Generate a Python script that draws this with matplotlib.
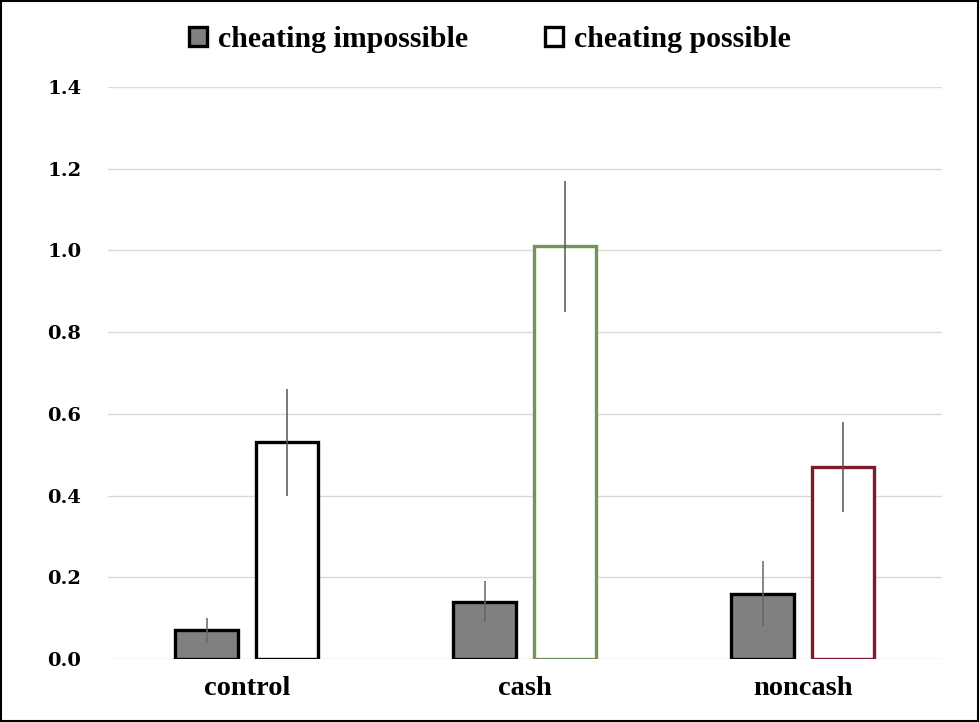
import numpy as np
import matplotlib.pyplot as plt
from matplotlib.patches import Rectangle

# Datos
condiciones = ['control', 'cash', 'noncash']
imposible = [0.07, 0.14, 0.16]
imposible_err = [0.03, 0.05, 0.08]
posible = [0.53, 1.01, 0.47]
posible_err = [0.13, 0.16, 0.11]
y_ticks = [0.0, 0.2, 0.4, 0.6, 0.8, 1.0, 1.2, 1.4]

borde_posible = ['black', '#76925a', '#7f1a2c']

plt.rcParams['font.family'] = ['Liberation Serif', 'DejaVu Serif']
plt.rcParams['font.weight'] = 'bold'

fig = plt.figure(figsize=(9.8, 7.22), dpi=100)
ax = fig.add_axes([0.110, 0.0873, 0.851, 0.7922])

x = np.arange(len(condiciones))
ancho = 0.225
desp = 0.144

ax.bar(x - desp, imposible, ancho, color='#808080', edgecolor='black',
       linewidth=2.4, label='cheating impossible', zorder=3)
ax.bar(x + desp, posible, ancho, color='white', edgecolor=borde_posible,
       linewidth=2.4, label='cheating possible', zorder=3)

ax.errorbar(x - desp, imposible, yerr=imposible_err, fmt='none',
            ecolor='#666666', elinewidth=1.1, capsize=0, zorder=4)
ax.errorbar(x + desp, posible, yerr=posible_err, fmt='none',
            ecolor='#555555', elinewidth=1.1, capsize=0, zorder=4)

ax.set_xlim(-0.5, 2.5)
ax.set_ylim(0, 1.4)
ax.set_yticks(y_ticks)
ax.set_yticklabels([f'{v:.1f}' for v in y_ticks], fontsize=14,
                   fontweight='bold', family='DejaVu Serif')
ax.set_xticks(x)
ax.set_xticklabels(condiciones, fontsize=20.5, fontweight='bold')
ax.tick_params(length=0)
ax.tick_params(axis='y', pad=19)
ax.tick_params(axis='x', pad=12)
ax.grid(axis='y', color='#d9d9d9', linewidth=1, zorder=0)
ax.set_axisbelow(True)
for s in ax.spines.values():
    s.set_visible(False)

# leyenda: ambos con borde negro
h1 = Rectangle((0, 0), 1, 1, facecolor='#808080', edgecolor='black', linewidth=2.4)
h2 = Rectangle((0, 0), 1, 1, facecolor='white', edgecolor='black', linewidth=2.4)
fig.legend([h1, h2], ['cheating impossible', 'cheating possible'],
           loc='center', bbox_to_anchor=(0.5, 0.945), ncol=2, frameon=False,
           fontsize=21.5, handlelength=0.6, handleheight=0.6, handletextpad=0.35,
           columnspacing=2.6)

# marco de la figura
fig.patches.append(Rectangle((0.001, 0.001), 0.997, 0.997, transform=fig.transFigure,
                             fill=False, edgecolor='black', linewidth=1.5))

fig.savefig('out.png', dpi=100)
